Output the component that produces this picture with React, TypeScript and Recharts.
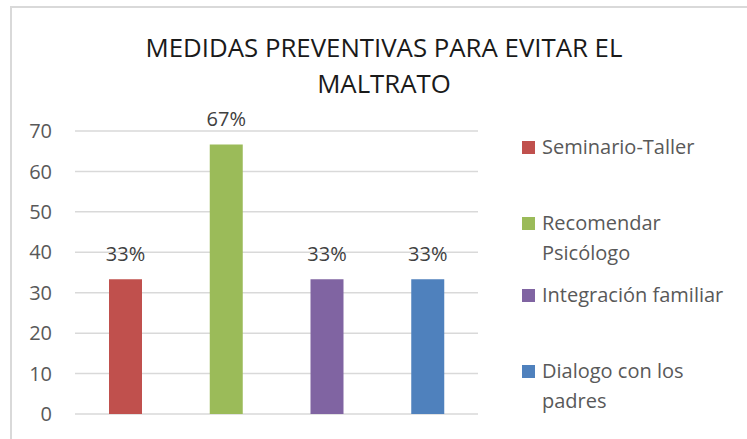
import React from "react";
import { BarChart, Bar, XAxis, YAxis, CartesianGrid, Cell, LabelList } from "recharts";

const categories = [
  "Seminario-Taller",
  "Recomendar Psicólogo",
  "Integración familiar",
  "Dialogo con los padres",
];
const legendLines = [
  ["Seminario-Taller"],
  ["Recomendar", "Psicólogo"],
  ["Integración familiar"],
  ["Dialogo con los", "padres"],
];
const values = [33.33, 66.67, 33.33, 33.33];
const colors = ["#C0504D", "#9BBB59", "#8064A2", "#4F81BD"];
const yTicks = [0, 10, 20, 30, 40, 50, 60, 70];
const titleLines = ["MEDIDAS PREVENTIVAS PARA EVITAR EL", "MALTRATO"];

const data = categories.map((name, i) => ({ name, value: values[i] }));

const FONT = "'Open Sans', 'Noto Sans', sans-serif";
const legendTops = [141, 217, 289, 365];

export default function App() {
  return (
    <div
      style={{
        position: "absolute",
        left: 0,
        top: 0,
        width: 747,
        height: 439,
        background: "#fff",
        fontFamily: FONT,
        overflow: "hidden",
      }}
    >
      <div
        style={{
          position: "absolute",
          left: 10,
          top: 6,
          width: 760,
          height: 460,
          border: "2px solid #D9D9D9",
          boxSizing: "border-box",
        }}
      />
      <div
        style={{
          position: "absolute",
          left: 84,
          width: 600,
          top: 29,
          textAlign: "center",
          fontSize: 25.8,
          lineHeight: "36px",
          color: "#1a1a1a",
        }}
      >
        {titleLines.map((t) => (
          <div key={t}>{t}</div>
        ))}
      </div>
      <BarChart
        width={747}
        height={439}
        data={data}
        margin={{ top: 131, right: 269, bottom: 25, left: 10 }}
        style={{ position: "absolute", left: 0, top: 0 }}
      >
        <CartesianGrid vertical={false} stroke="#D9D9D9" strokeWidth={1.5} />
        <XAxis dataKey="name" hide />
        <YAxis
          width={65}
          domain={[0, 70]}
          ticks={yTicks}
          interval={0}
          axisLine={false}
          tickLine={false}
          tickSize={0}
          tickMargin={23}
          tick={{ fill: "#595959", fontSize: 20, fontFamily: FONT }}
        />
        <Bar dataKey="value" barSize={33} isAnimationActive={false}>
          {data.map((d, i) => (
            <Cell key={d.name} fill={colors[i]} />
          ))}
          <LabelList
            dataKey="value"
            position="top"
            offset={18}
            formatter={(v: any) => `${Math.round(Number(v))}%`}
            style={{ fill: "#404040", fontSize: 20, fontFamily: FONT }}
          />
        </Bar>
      </BarChart>
      {legendLines.map((lines, i) => (
        <div
          key={i}
          style={{
            position: "absolute",
            left: 522,
            top: legendTops[i],
            display: "flex",
            alignItems: "flex-start",
          }}
        >
          <div
            style={{
              width: 13,
              height: 13,
              background: colors[i],
              marginRight: 7,
            }}
          />
          <div
            style={{
              fontSize: 20,
              lineHeight: "30px",
              color: "#595959",
              marginTop: -9,
              whiteSpace: "nowrap",
            }}
          >
            {lines.map((l) => (
              <div key={l}>{l}</div>
            ))}
          </div>
        </div>
      ))}
    </div>
  );
}
